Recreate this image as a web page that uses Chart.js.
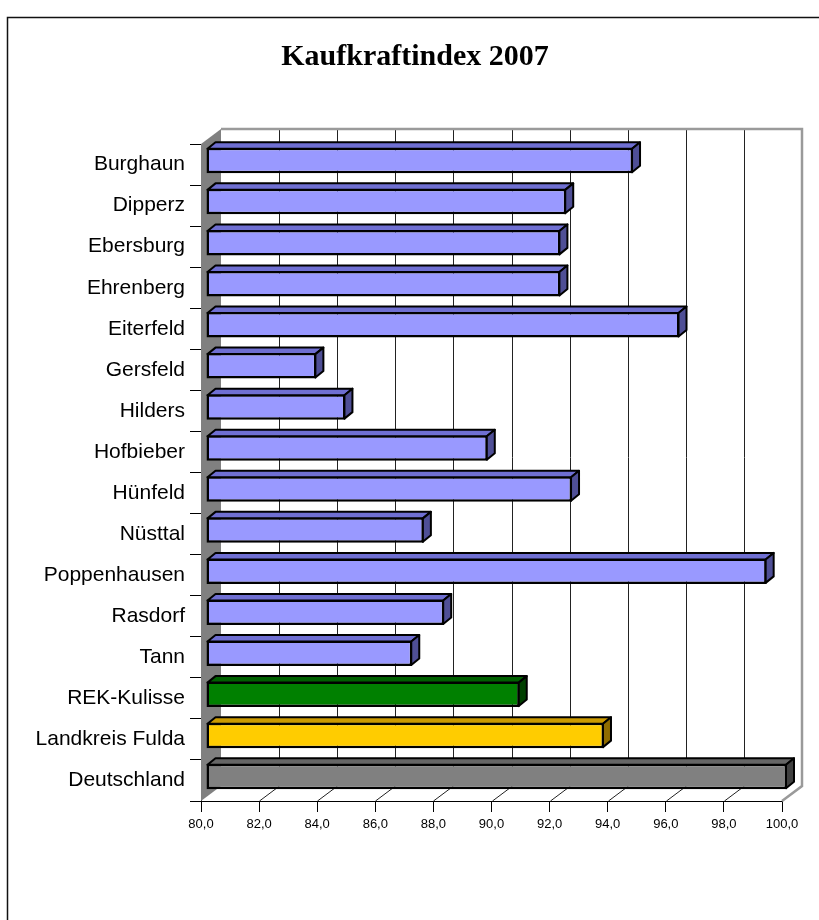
<!DOCTYPE html>
<html lang="de">
<head>
<meta charset="utf-8">
<title>Kaufkraftindex 2007</title>
<script src="https://cdn.jsdelivr.net/npm/chart.js@4.4.1/dist/chart.umd.min.js"></script>
<style>
    html, body { margin: 0; padding: 0; background: #fff; }
    canvas { display: block; }
</style>
</head>
<body>
<canvas id="kaufkraftChart" width="819" height="920"></canvas>
<script>
// Data
const chartTitle = 'Kaufkraftindex 2007';
const gemeinden = ['Burghaun', 'Dipperz', 'Ebersburg', 'Ehrenberg', 'Eiterfeld', 'Gersfeld', 'Hilders',
    'Hofbieber', 'Hünfeld', 'Nüsttal', 'Poppenhausen', 'Rasdorf', 'Tann', 'REK-Kulisse',
    'Landkreis Fulda', 'Deutschland'];
const kaufkraftIndex = [94.7, 92.4, 92.2, 92.2, 96.3, 83.8, 84.8, 89.7, 92.6, 87.5, 99.3, 88.2, 87.1, 90.8, 93.7, 100.0];
const axisTicks = [80, 82, 84, 86, 88, 90, 92, 94, 96, 98, 100];

// colours: front face, top face, side face
const frontColors = gemeinden.map((g, i) => i < 13 ? '#9999FF' : ['#008000', '#FFCC00', '#808080'][i - 13]);
const topColors = gemeinden.map((g, i) => i < 13 ? '#6F6FD2' : ['#006000', '#CC9A00', '#666666'][i - 13]);
const sideColors = gemeinden.map((g, i) => i < 13 ? '#4F4F96' : ['#004000', '#8F6C00', '#404040'][i - 13]);

const wallDepth = { dx: 20, dy: -15 };
const barShift = { dx: 5, dy: -4 };
const barDepth = { dx: 8, dy: -6.5 };

const scene3d = {
    id: 'scene3d',
    beforeDraw(chart) {
        const ctx = chart.ctx;
        ctx.save();
        ctx.fillStyle = '#fff';
        ctx.fillRect(0, 0, chart.width, chart.height);
        ctx.strokeStyle = '#111';
        ctx.lineWidth = 1.5;
        ctx.strokeRect(7.5, 17.5, chart.width + 20, chart.height + 20);
        // title (centred on the frame, not the chart area)
        ctx.fillStyle = '#000';
        ctx.font = 'bold 30px "Liberation Serif", "Times New Roman", serif';
        ctx.textAlign = 'center';
        ctx.textBaseline = 'middle';
        ctx.fillText(chartTitle, 415, 57);
        ctx.restore();
    },
    beforeDatasetsDraw(chart) {
        const { ctx, chartArea: a } = chart;
        const x = chart.scales.x;
        const { dx, dy } = wallDepth;
        ctx.save();
        // back wall grid + floor lines
        ctx.strokeStyle = '#222';
        ctx.lineWidth = 1;
        x.ticks.forEach(t => {
            if (t.value === x.min || t.value === x.max) return;
            const px = Math.round(x.getPixelForValue(t.value)) + 0.5;
            ctx.beginPath();
            ctx.moveTo(px + dx, a.top + dy);
            ctx.lineTo(px + dx, a.bottom + dy);
            ctx.lineTo(px, a.bottom);
            ctx.stroke();
        });
        // grey outline of back wall / floor
        ctx.strokeStyle = '#9a9a9a';
        ctx.lineWidth = 2.5;
        ctx.beginPath();
        ctx.moveTo(a.left + dx, a.top + dy);
        ctx.lineTo(a.right + dx, a.top + dy);
        ctx.lineTo(a.right + dx, a.bottom + dy);
        ctx.lineTo(a.right, a.bottom);
        ctx.stroke();
        // left side wall
        ctx.fillStyle = '#808080';
        ctx.beginPath();
        ctx.moveTo(a.left, a.top);
        ctx.lineTo(a.left + dx, a.top + dy);
        ctx.lineTo(a.left + dx, a.bottom + dy);
        ctx.lineTo(a.left, a.bottom);
        ctx.closePath();
        ctx.fill();
        ctx.restore();

        // bars sit a little inside the depth
        ctx.save();
        ctx.translate(barShift.dx, barShift.dy);
    },
    afterDatasetsDraw(chart) {
        const ctx = chart.ctx;
        const { dx, dy } = barDepth;
        const meta = chart.getDatasetMeta(0);
        ctx.lineWidth = 2;
        ctx.lineJoin = 'round';
        ctx.strokeStyle = '#000';
        meta.data.forEach((bar, i) => {
            const p = bar.getProps(['x', 'y', 'base', 'height'], true);
            const left = p.base + 1, right = p.x - 1;
            const top = p.y - p.height / 2 + 1, bottom = p.y + p.height / 2 - 1;
            // top face
            ctx.fillStyle = topColors[i];
            ctx.beginPath();
            ctx.moveTo(left, top);
            ctx.lineTo(left + dx, top + dy);
            ctx.lineTo(right + dx, top + dy);
            ctx.lineTo(right, top);
            ctx.closePath();
            ctx.fill();
            ctx.stroke();
            // side face
            ctx.fillStyle = sideColors[i];
            ctx.beginPath();
            ctx.moveTo(right, top);
            ctx.lineTo(right + dx, top + dy);
            ctx.lineTo(right + dx, bottom + dy);
            ctx.lineTo(right, bottom);
            ctx.closePath();
            ctx.fill();
            ctx.stroke();
        });
        ctx.restore();
    }
};

const ctx = document.getElementById('kaufkraftChart').getContext('2d');

new Chart(ctx, {
    type: 'bar',
    data: {
        labels: gemeinden,
        datasets: [{
            label: chartTitle,
            data: kaufkraftIndex,
            base: 80,
            backgroundColor: frontColors,
            borderColor: '#000',
            borderWidth: 2.5,
            borderSkipped: false,
            barPercentage: 0.62,
            categoryPercentage: 1,
            clip: false
        }]
    },
    options: {
        indexAxis: 'y',
        responsive: false,
        animation: false,
        devicePixelRatio: 1,
        layout: { padding: { top: 144, left: 0, right: 37, bottom: 79 } },
        plugins: {
            legend: { display: false },
            tooltip: { enabled: false },
            title: { display: false }
        },
        scales: {
            x: {
                min: 80,
                max: 100,
                z: 1,
                afterBuildTicks: axis => { axis.ticks = axisTicks.map(v => ({ value: v })); },
                afterFit: axis => { axis.height = 40; },
                grid: { drawOnChartArea: false, drawTicks: true, tickLength: 11, color: '#000' },
                border: { display: true, color: '#000', width: 1 },
                ticks: {
                    color: '#000',
                    padding: 5,
                    font: { family: '"Liberation Sans", Arial, sans-serif', size: 13 },
                    callback: v => v.toFixed(1).replace('.', ',')
                }
            },
            y: {
                z: 1,
                afterFit: axis => { axis.width = 201; },
                grid: { drawOnChartArea: false, drawTicks: true, tickLength: 11, color: '#000', offset: true },
                border: { display: true, color: '#000', width: 1 },
                ticks: {
                    color: '#000',
                    padding: 5,
                    font: { family: '"Liberation Sans", Arial, sans-serif', size: 21 }
                }
            }
        }
    },
    plugins: [scene3d]
});
</script>
</body>
</html>
